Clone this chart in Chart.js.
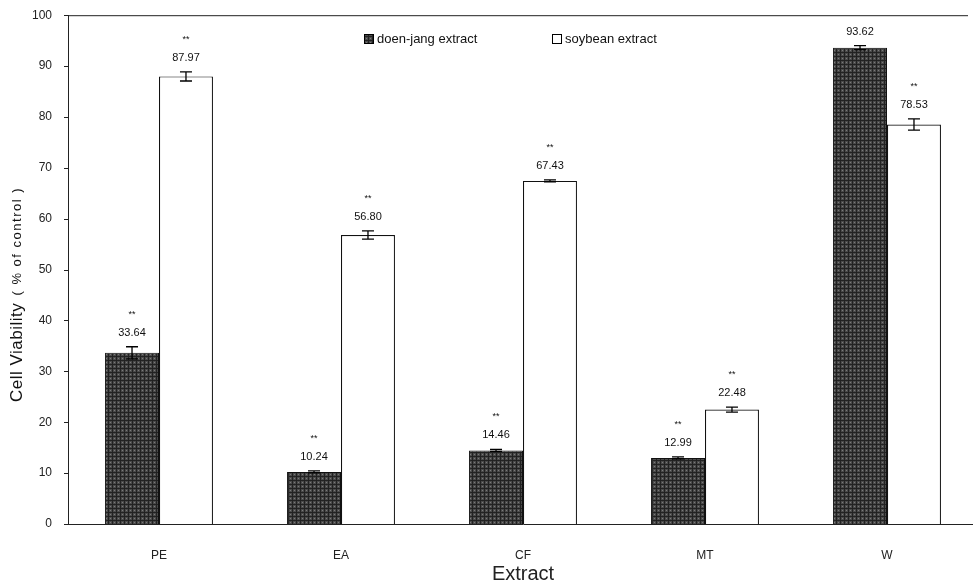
<!DOCTYPE html>
<html lang="en">
<head>
    <meta charset="UTF-8">
    <title>Cell Viability</title>
    <script src="https://cdn.jsdelivr.net/npm/chart.js"></script>
    <style>
        body { margin: 0; background: #fff; overflow: hidden; }
        #wrap { width: 978px; height: 586px; position: relative; }
    </style>
</head>
<body>
    <div id="wrap"><canvas id="viabilityChart"></canvas></div>

    <script>
        // Data
        const extracts = ["PE", "EA", "CF", "MT", "W"];
        const doenJang = [33.64, 10.24, 14.46, 12.99, 93.62];
        const soybean = [87.97, 56.80, 67.43, 22.48, 78.53];
        const doenJangErr = [1.2, 0.2, 0.2, 0.2, 0.4];
        const soybeanErr = [0.9, 0.8, 0.2, 0.5, 1.1];
        const doenJangSig = ["**", "**", "**", "**", ""];
        const soybeanSig = ["**", "**", "**", "**", "**"];
        const yTicks = [0, 10, 20, 30, 40, 50, 60, 70, 80, 90, 100];

        const FONT = "'Liberation Sans', Arial, sans-serif";

        // dark textured fill like the printed hatch
        function makePattern() {
            const c = document.createElement("canvas");
            c.width = 4; c.height = 4;
            const g = c.getContext("2d");
            g.fillStyle = "#4a4a4a";
            g.fillRect(0, 0, 4, 4);
            g.fillStyle = "#222";
            g.fillRect(0, 0, 4, 1);
            g.fillRect(0, 0, 1, 4);
            g.fillStyle = "#7a7a7a";
            g.fillRect(2, 2, 1, 1);
            return g.createPattern(c, "repeat");
        }
        const darkFill = makePattern();

        const extras = {
            id: "extras",
            afterDatasetsDraw(chart) {
                const ctx = chart.ctx;
                const area = chart.chartArea;
                const y = chart.scales.y;
                ctx.save();

                // top frame line
                ctx.strokeStyle = "#222";
                ctx.lineWidth = 1;
                ctx.beginPath();
                ctx.moveTo(area.left, area.top + 0.5);
                ctx.lineTo(968, area.top + 0.5);
                ctx.stroke();

                // y tick marks
                yTicks.forEach(v => {
                    const py = Math.round(y.getPixelForValue(v)) + 0.5;
                    ctx.beginPath();
                    ctx.moveTo(area.left - 4, py);
                    ctx.lineTo(area.left, py);
                    ctx.stroke();
                });

                const sets = [
                    { vals: doenJang, err: doenJangErr, sig: doenJangSig },
                    { vals: soybean, err: soybeanErr, sig: soybeanSig }
                ];
                sets.forEach((s, di) => {
                    const meta = chart.getDatasetMeta(di);
                    meta.data.forEach((bar, i) => {
                        const x = bar.x;
                        const top = y.getPixelForValue(s.vals[i] + s.err[i]);
                        const bot = y.getPixelForValue(s.vals[i] - s.err[i]);
                        ctx.strokeStyle = "#000";
                        ctx.lineWidth = 1.3;
                        ctx.beginPath();
                        ctx.moveTo(x, top); ctx.lineTo(x, bot);
                        ctx.moveTo(x - 6, top); ctx.lineTo(x + 6, top);
                        ctx.moveTo(x - 6, bot); ctx.lineTo(x + 6, bot);
                        ctx.stroke();

                        ctx.fillStyle = "#111";
                        ctx.textAlign = "center";
                        ctx.textBaseline = "alphabetic";
                        ctx.font = "11px " + FONT;
                        ctx.fillText(s.vals[i].toFixed(2), x, top - 11);
                        if (s.sig[i]) {
                            ctx.font = "9px " + FONT;
                            ctx.fillText(s.sig[i], x, top - 30);
                        }
                    });
                });

                // legend inside plot
                ctx.font = "13px " + FONT;
                ctx.textAlign = "left";
                ctx.textBaseline = "middle";
                ctx.fillStyle = darkFill;
                ctx.fillRect(364, 34, 9, 9);
                ctx.strokeStyle = "#000";
                ctx.lineWidth = 1;
                ctx.strokeRect(364.5, 34.5, 9, 9);
                ctx.fillStyle = "#111";
                ctx.fillText("doen-jang extract", 377, 39);
                ctx.fillStyle = "#fff";
                ctx.fillRect(552.5, 34.5, 9, 9);
                ctx.strokeRect(552.5, 34.5, 9, 9);
                ctx.fillStyle = "#111";
                ctx.fillText("soybean extract", 565, 39);

                // y axis title with smaller parenthetical
                ctx.translate(17, 402);
                ctx.rotate(-Math.PI / 2);
                ctx.textBaseline = "middle";
                ctx.textAlign = "left";
                const a = "Cell Viability ";
                ctx.font = "17px " + FONT;
                ctx.letterSpacing = "0.5px";
                ctx.fillText(a, 0, 0);
                const wa = ctx.measureText(a).width;
                ctx.font = "13px " + FONT;
                ctx.letterSpacing = "1.5px";
                ctx.fillText("( % of control )", wa + 2, 0);
                ctx.restore();
            }
        };

        new Chart(document.getElementById("viabilityChart"), {
            type: "bar",
            data: {
                labels: extracts,
                datasets: [
                    {
                        label: "doen-jang extract",
                        data: doenJang,
                        backgroundColor: darkFill,
                        borderColor: "#111",
                        borderWidth: 1,
                        barPercentage: 1.0,
                        categoryPercentage: 0.593
                    },
                    {
                        label: "soybean extract",
                        data: soybean,
                        backgroundColor: "#fff",
                        borderColor: "#111",
                        borderWidth: 1.2,
                        barPercentage: 1.0,
                        categoryPercentage: 0.593
                    }
                ]
            },
            plugins: [extras],
            options: {
                responsive: true,
                maintainAspectRatio: false,
                animation: false,
                layout: { padding: { left: 0, right: 0, top: 15, bottom: 0 } },
                scales: {
                    x: {
                        grid: { display: false },
                        border: { color: "#222" },
                        ticks: { color: "#222", font: { size: 12, family: FONT }, padding: 16 },
                        title: { display: true, text: "Extract", color: "#222", font: { size: 20, family: FONT }, padding: { top: 4, bottom: 0 } },
                        afterFit(s) { s.height = 62; }
                    },
                    y: {
                        min: 0,
                        max: 100,
                        grid: { display: false },
                        border: { color: "#222" },
                        ticks: { stepSize: 10, color: "#222", font: { size: 12, family: FONT }, padding: 8 },
                        afterFit(s) { s.width = 68; }
                    }
                },
                plugins: {
                    legend: { display: false },
                    tooltip: { enabled: false }
                }
            }
        });
    </script>
</body>
</html>
